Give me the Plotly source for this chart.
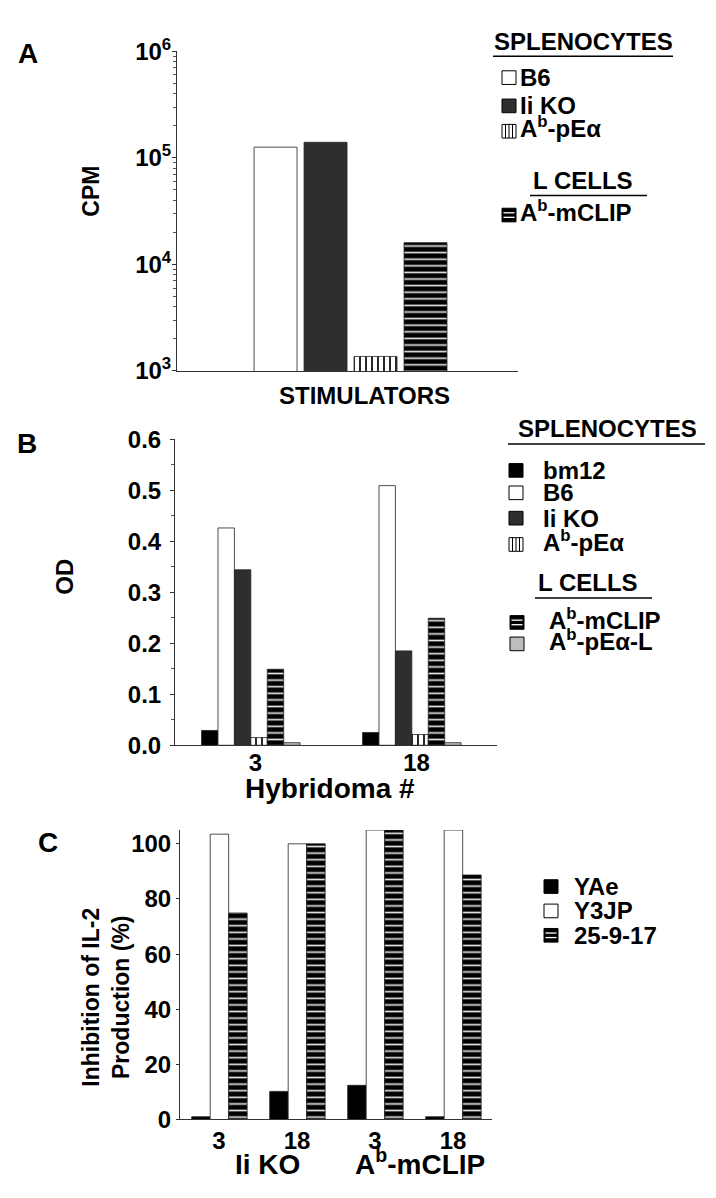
import plotly.graph_objects as go

# The page body has an 8 px default margin, so the figure is drawn 8 px smaller on
# each side and reference pixel coordinates are mapped with that offset.
PAGE_W, PAGE_H = 716, 1198
M = 8
W, H = PAGE_W - 2 * M, PAGE_H - 2 * M
FONT = "Liberation Sans, Arial, Helvetica, sans-serif"


def px(x):
    return (x - M) / W


def py(y):
    return 1 - (y - M) / H


# ---------------- data ----------------
# Panel A: proliferation (CPM) by stimulator
a_category = ["STIMULATORS"]
a_names = ["B6", "Ii KO", "A<sup>b</sup>-pEα", "A<sup>b</sup>-mCLIP"]
a_b6 = [126000]
a_iiko = [140000]
a_pea = [1370]
a_mclip = [16000]

# Panel B: OD by hybridoma
b_hybridoma = ["3", "18"]
b_bm12 = [0.029, 0.025]
b_b6 = [0.426, 0.509]
b_iiko = [0.344, 0.185]
b_pea = [0.015, 0.021]
b_mclip = [0.149, 0.249]
b_peal = [0.005, 0.005]

# Panel C: inhibition of IL-2 production (%)
c_stimulator = ["Ii KO", "Ii KO", "A<sup>b</sup>-mCLIP", "A<sup>b</sup>-mCLIP"]
c_hybridoma = ["3", "18", "3", "18"]
c_yae = [1, 10.2, 12.4, 1]
c_y3jp = [103.5, 100, 105, 105]
c_25917 = [74.9, 100, 105, 88.7]

# ---------------- styles ----------------
OUT = dict(color="#222", width=0.8)
STY = {
    "white": dict(color="white", line=OUT),
    "black": dict(color="black", line=OUT),
    "dark": dict(color="#2e2e2e", line=OUT),
    "vlines": dict(color="white", line=OUT,
                   pattern=dict(shape="|", fillmode="replace", bgcolor="white",
                                fgcolor="black", size=6, solidity=0.28)),
    "hlines": dict(color="black", line=OUT,
                   pattern=dict(shape="-", fillmode="replace", bgcolor="black",
                                fgcolor="#e6e6e6", size=6.6, solidity=0.25)),
    "lgray": dict(color="#bdbdbd", line=OUT),
}

fig = go.Figure()


def add_group(xcats, series, xa, ya, start, slot, width):
    for i, (name, vals, sty) in enumerate(series):
        fig.add_trace(go.Bar(
            x=xcats, y=vals, name=name, marker=STY[sty],
            offset=start + i * slot, width=width,
            xaxis=xa, yaxis=ya, showlegend=False, hoverinfo="y"))


add_group(a_category,
          [(a_names[0], a_b6, "white"), (a_names[1], a_iiko, "dark"),
           (a_names[2], a_pea, "vlines"), (a_names[3], a_mclip, "hlines")],
          "x", "y", -0.274, 0.1466, 0.126)

add_group(b_hybridoma,
          [("bm12", b_bm12, "black"), ("B6", b_b6, "white"), ("Ii KO", b_iiko, "dark"),
           ("Ab-pEα", b_pea, "vlines"), ("Ab-mCLIP", b_mclip, "hlines"),
           ("Ab-pEα-L", b_peal, "lgray")],
          "x2", "y2", -0.335, 0.102, 0.102)

c_keys = [s + "|" + h for s, h in zip(c_stimulator, c_hybridoma)]
add_group(c_keys,
          [("YAe", c_yae, "black"), ("Y3JP", c_y3jp, "white"), ("25-9-17", c_25917, "hlines")],
          "x3", "y3", -0.35, 0.237, 0.237)

AX = dict(showline=True, linecolor="#333", linewidth=1, showgrid=False, zeroline=False,
          mirror=False)
TF = dict(family=FONT, size=24, color="black", weight="bold")

log_minor = [m * 10 ** e for e in (3, 4, 5) for m in range(2, 10)]

fig.update_layout(
    width=W, height=H, margin=dict(l=0, r=0, t=0, b=0),
    paper_bgcolor="white", plot_bgcolor="white", barmode="overlay",
    font=dict(family=FONT, size=24, color="black", weight="bold"),
    xaxis=dict(AX, domain=[px(177), px(518)], type="category", range=[-0.5, 0.5],
               showticklabels=False, ticks="", anchor="y"),
    yaxis=dict(AX, domain=[py(363), py(35)], type="log", range=[3, 6],
               tickmode="array", tickvals=[1e3, 1e4, 1e5, 1e6],
               ticktext=["10<sup>3</sup>", "10<sup>4</sup>", "10<sup>5</sup>", "10<sup>6</sup>"],
               ticks="outside", ticklen=4, tickcolor="#333", tickfont=TF,
               ticklabelstandoff=-4,
               minor=dict(ticks="outside", ticklen=3, tickcolor="#555",
                          tickmode="array", tickvals=log_minor),
               anchor="x"),
    xaxis2=dict(AX, domain=[px(175), px(497)], type="category", range=[-0.5, 1.5],
                ticks="", tickfont=TF, ticklabelstandoff=-4, anchor="y2"),
    yaxis2=dict(AX, domain=[py(747), py(433)], range=[0, 0.6], tickmode="linear",
                tick0=0, dtick=0.1, tickformat=".1f", ticks="outside", ticklen=4,
                tickcolor="#333", tickfont=TF, ticklabelstandoff=4,
                minor=dict(ticks="outside", ticklen=3, tickcolor="#555", dtick=0.05),
                anchor="x2"),
    xaxis3=dict(AX, domain=[px(180), px(492)], type="category", range=[-0.5, 3.5],
                tickmode="array", tickvals=c_keys, ticktext=c_hybridoma,
                ticks="", tickfont=TF, anchor="y3"),
    yaxis3=dict(AX, domain=[py(1131), py(834)], range=[0, 105], tickmode="linear",
                tick0=0, dtick=20, ticks="outside", ticklen=3, tickcolor="#333",
                tickfont=TF, ticklabelstandoff=0, anchor="x3"),
)

ann = []
shapes = []


def text(x, y, s, size=24, xanchor="center", angle=0):
    ann.append(dict(x=px(x), y=py(y), xref="paper", yref="paper", text=s,
                    showarrow=False, xanchor=xanchor, yanchor="middle", textangle=angle,
                    font=dict(family=FONT, size=size, color="black", weight="bold")))


def hline(x0, x1, y, w=1.5):
    shapes.append(dict(type="line", xref="paper", yref="paper", x0=px(x0), x1=px(x1),
                       y0=py(y), y1=py(y), line=dict(color="black", width=w)))


def swatch(x, yc, kind, s=14):
    fills = {"white": "white", "black": "black", "dark": "#2e2e2e", "vlines": "white",
             "hlines": "black", "lgray": "#bdbdbd"}
    shapes.append(dict(type="rect", xref="paper", yref="paper", x0=px(x), x1=px(x + s),
                       y0=py(yc + s / 2), y1=py(yc - s / 2), fillcolor=fills[kind],
                       line=dict(color="black", width=1)))
    if kind == "vlines":
        for k in (1, 2, 3):
            xx = x + s * k / 4
            shapes.append(dict(type="line", xref="paper", yref="paper", x0=px(xx), x1=px(xx),
                               y0=py(yc + s / 2), y1=py(yc - s / 2),
                               line=dict(color="black", width=1)))
    if kind == "hlines":
        for k in (1, 2):
            yy = yc - s / 2 + s * k / 3
            shapes.append(dict(type="line", xref="paper", yref="paper", x0=px(x + 1.5),
                               x1=px(x + s - 1.5), y0=py(yy), y1=py(yy),
                               line=dict(color="white", width=1.3)))


# panel letters
text(28, 37, "A", 28)
text(27, 437, "B", 28)
text(48, 847, "C", 28)

# axis titles
text(91, 179, "CPM", 23, angle=-90)
text(364, 388, "STIMULATORS", 24)
text(65, 574, "OD", 24, angle=-90)
text(330, 791, "Hybridoma #", 28)
text(106, 1006, "Inhibition of IL-2<br>Production (%)", 23, angle=-90)
text(267, 1177, "Ii KO", 28)
text(420, 1175, c_stimulator[2], 28)

# legend A
text(583, 25, "SPLENOCYTES", 24)
hline(493, 673, 40)
for yc, kind, name in [(62, "white", a_names[0]), (91, "dark", a_names[1]),
                       (117, "vlines", a_names[2])]:
    swatch(502, yc, kind)
    text(518, yc - (4 if "sup" in name else 0), name, 24, xanchor="left")
text(583, 168, "L CELLS", 24)
hline(530, 647, 183)
swatch(502, 203, "hlines")
text(518, 199, a_names[3], 24, xanchor="left")

# legend B
text(607, 422, "SPLENOCYTES", 24)
hline(508, 705, 438)
for yc, kind, name in [(465, "black", "bm12"), (488, "white", "B6"), (514, "dark", "Ii KO"),
                       (541, "vlines", "A<sup>b</sup>-pEα")]:
    swatch(509, yc, kind)
    text(541, yc - (4 if "sup" in name else 0), name, 24, xanchor="left")
text(588, 580, "L CELLS", 24)
hline(535, 652, 596)
swatch(510, 621, "hlines")
text(547, 617, "A<sup>b</sup>-mCLIP", 24, xanchor="left")
swatch(510, 643, "lgray")
text(547, 639, "A<sup>b</sup>-pEα-L", 24, xanchor="left")

# legend C
for yc, kind, name in [(892, "black", "YAe"), (917, "white", "Y3JP"), (942, "hlines", "25-9-17")]:
    swatch(544, yc, kind)
    text(572, yc, name, 24, xanchor="left")

fig.update_layout(annotations=ann, shapes=shapes)
fig.write_html("out.html")
